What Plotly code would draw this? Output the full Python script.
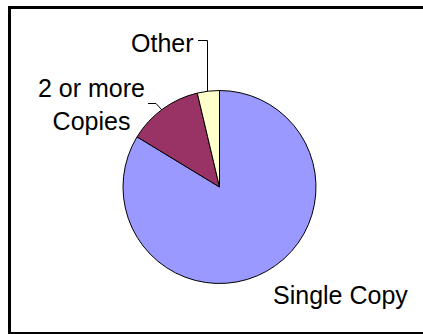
import plotly.graph_objects as go

# Circulation share by number of copies
labels = ["Single Copy", "2 or more Copies", "Other"]
values = [83.7, 12.6, 3.7]
colors = ["#9999FF", "#993366", "#FFFFCC"]

W, H = 423, 334


def px(x):
    return x / W


def py(y):
    return (H - y) / H


fig = go.Figure(
    go.Pie(
        labels=labels,
        values=values,
        sort=False,
        direction="clockwise",
        rotation=0,
        textinfo="none",
        hoverinfo="label+percent",
        marker=dict(colors=colors, line=dict(color="#000000", width=1)),
        domain=dict(x=[px(123), px(316)], y=[py(283.5), py(90.5)]),
        showlegend=False,
    )
)

font = dict(family="Liberation Sans, Arial, sans-serif", size=25, color="#000000")

annotations = [
    dict(text="Other", x=px(196), y=py(43), xanchor="right", yanchor="middle"),
    dict(text="2 or more<br>Copies", x=px(91), y=py(104.5), xanchor="center",
         yanchor="middle", align="center"),
    dict(text="Single Copy", x=px(340), y=py(295), xanchor="center", yanchor="middle"),
]
for a in annotations:
    a.update(xref="paper", yref="paper", showarrow=False, font=font)

line_style = dict(color="#000000", width=1)
shapes = [
    # outer frame: top, left and bottom edges running to the page's right edge
    dict(type="path", xref="paper", yref="paper",
         path=(f"M {px(423)},{py(7.5)} L {px(9.5)},{py(7.5)} "
               f"L {px(9.5)},{py(333.5)} L {px(423)},{py(333.5)}"),
         line=dict(color="#000000", width=3)),
    # leader line for "Other"
    dict(type="path", xref="paper", yref="paper",
         path=f"M {px(198)},{py(40.5)} L {px(207.5)},{py(40.5)} L {px(207.5)},{py(91)}",
         line=line_style),
    # leader line for "2 or more Copies"
    dict(type="path", xref="paper", yref="paper",
         path=f"M {px(148)},{py(103.5)} L {px(156)},{py(103.5)} L {px(162)},{py(110)}",
         line=line_style),
]

fig.update_layout(
    width=W,
    height=H,
    autosize=False,
    margin=dict(l=0, r=0, t=0, b=0),
    paper_bgcolor="#FFFFFF",
    plot_bgcolor="#FFFFFF",
    annotations=annotations,
    shapes=shapes,
)

fig.write_html("out.html")
